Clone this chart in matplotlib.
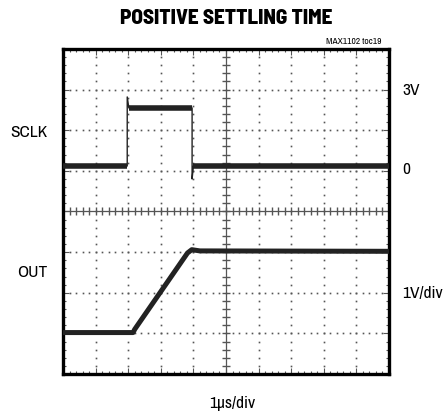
import numpy as np
import matplotlib
matplotlib.use("Agg")
import matplotlib.pyplot as plt

# ---- data (time in divisions, 1us/div; voltage in screen divisions) ----
sclk_t = [0.0, 1.97, 1.97, 2.02, 3.96, 3.96, 4.0, 10.0]
sclk_v = [5.12, 5.12, 6.82, 6.55, 6.55, 4.8, 5.12, 5.12]
out_t = [0.0, 2.15, 2.2, 3.82, 3.95, 4.2, 10.0]
out_v = [1.02, 1.02, 1.1, 2.98, 3.06, 3.03, 3.02]

title = "POSITIVE SETTLING TIME"
note = "MAX1102 toc19"
x_label = "1\u00b5s/div"
left_labels = [("SCLK", 5.95), ("OUT", 2.5)]
right_labels = [("3V", 6.98), ("0", 5.03), ("1V/div", 1.99)]

FONT = ["Archivo Narrow", "DejaVu Sans"]
TFONT = ["Barlow Semi Condensed", "DejaVu Sans"]

fig = plt.figure(figsize=(4.46, 4.11), dpi=100)
ax = fig.add_axes([63/446, 37/411, 326/446, 325/411])
ax.set_xlim(0, 10)
ax.set_ylim(0, 8)

# dotted graticule
gc = "#555555"
ys = np.arange(0, 8.001, 0.2)
xs = np.arange(0, 10.001, 0.2)
for gx in range(1, 10):
    if gx == 5:
        continue
    ax.plot(np.full_like(ys, gx), ys, ls="none", marker="s", ms=1.2, color=gc, mew=0)
for gy in range(1, 8):
    if gy == 4:
        continue
    ax.plot(xs, np.full_like(xs, gy), ls="none", marker="s", ms=1.2, color=gc, mew=0)

# center cross with ticks
ax.axvline(5, color=gc, lw=0.9)
ax.axhline(4, color=gc, lw=0.9)
ax.plot(np.full_like(ys, 5), ys, ls="none", marker="_", ms=6, mew=1.0, color=gc)
ax.plot(xs, np.full_like(xs, 4), ls="none", marker="|", ms=6, mew=1.0, color=gc)

# border ticks
ax.set_xticks(np.arange(0, 11, 1))
ax.set_yticks(np.arange(0, 9, 1))
ax.set_xticks(xs, minor=True)
ax.set_yticks(ys, minor=True)
ax.tick_params(which="both", direction="in", top=True, right=True,
               labelbottom=False, labelleft=False, color=gc, width=0.8)
ax.tick_params(which="major", length=4)
ax.tick_params(which="minor", length=2.5)
for s in ax.spines.values():
    s.set_linewidth(2.4)
    s.set_color("black")

tc = "#222222"
# SCLK trace: thin edges, thick levels
ax.plot(sclk_t, sclk_v, color=tc, lw=1.0, zorder=5)
for i in range(len(sclk_t) - 1):
    if abs(sclk_v[i] - sclk_v[i + 1]) < 0.05 and sclk_t[i + 1] - sclk_t[i] > 0.5:
        ax.plot(sclk_t[i:i + 2], sclk_v[i:i + 2], color=tc, lw=4.0,
                solid_capstyle="butt", zorder=5)
# OUT trace
ax.plot(out_t, out_v, color=tc, lw=3.6, solid_capstyle="butt",
        solid_joinstyle="round", zorder=5)

# texts
fig.text(226/446, 1 - 19/411, title, ha="center", va="center",
         fontsize=15.2, fontweight=800, family=TFONT)
fig.text(381/446, 1 - 41/411, note, ha="right", va="center",
         fontsize=6.8, family=FONT)
for lab, yv in left_labels:
    ax.text(-0.48, yv, lab, ha="right", va="center", fontsize=12.5,
            family=FONT, transform=ax.transData, clip_on=False)
for lab, yv in right_labels:
    ax.text(0.4 + 10, yv, lab, ha="left", va="center", fontsize=12.5,
            family=FONT, transform=ax.transData, clip_on=False)
fig.text(232/446, 1 - 403/411, x_label, ha="center", va="center",
         fontsize=12.5, family=FONT)

fig.savefig("out.png", dpi=100)
